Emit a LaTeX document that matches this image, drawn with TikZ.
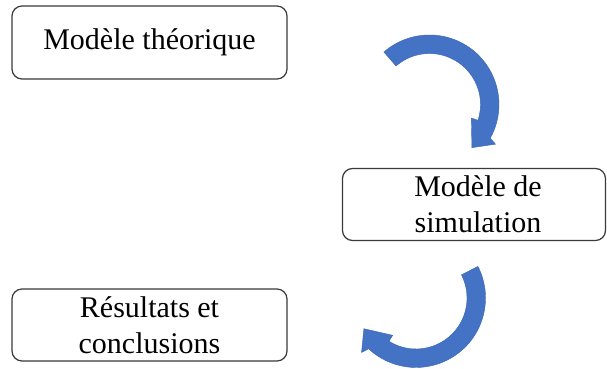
\documentclass[tikz,border=0pt]{standalone}
\usepackage{fontspec}
\setmainfont{Liberation Serif}
\usetikzlibrary{calc}

\definecolor{arrowblue}{HTML}{4472C4}
\definecolor{arrowedge}{HTML}{3B66B5}
\definecolor{boxline}{HTML}{3A3A3A}

% curved block arrow: centre (#1,#2), starts at angle #3 and turns clockwise
\newcommand{\circArrow}[3]{%
  \begin{scope}[shift={(#1,#2)}]
    \filldraw[fill=arrowblue, draw=arrowedge, line width=0.4pt, line join=miter]
      (#3:69.5) arc[start angle=#3, end angle={#3-160}, radius=69.5]
      -- ({#3-162}:77)
      -- ({#3-176.5}:60.5)
      -- ({#3-149}:44)
      -- ({#3-149}:51)
      arc[start angle={#3-149}, end angle=#3, radius=51]
      -- cycle;
  \end{scope}}

\begin{document}
\begin{tikzpicture}[x=1pt, y=1pt,
  stagebox/.style={draw=boxline, line width=1.2pt, rounded corners=10pt,
    inner sep=0pt, align=center,
    font=\fontsize{30}{36}\selectfont}]
  \fill[white] (0,0) rectangle (607,369);
  \useasboundingbox (0,0) rectangle (607,369);

  \node[stagebox, minimum width=275pt, minimum height=73pt] (theo) at (149.5,326.5)
    {Modèle théorique};
  \node[stagebox, minimum width=263pt, minimum height=72pt] (simu) at (474,164.5)
    {\hspace*{8pt}Modèle de\\\hspace*{8pt}simulation};
  \node[stagebox, minimum width=275pt, minimum height=72pt] (resu) at (149.5,44)
    {Résultats et\\conclusions};

  \circArrow{429.5}{264.5}{131}
  \circArrow{416}{71}{27}
\end{tikzpicture}
\end{document}
